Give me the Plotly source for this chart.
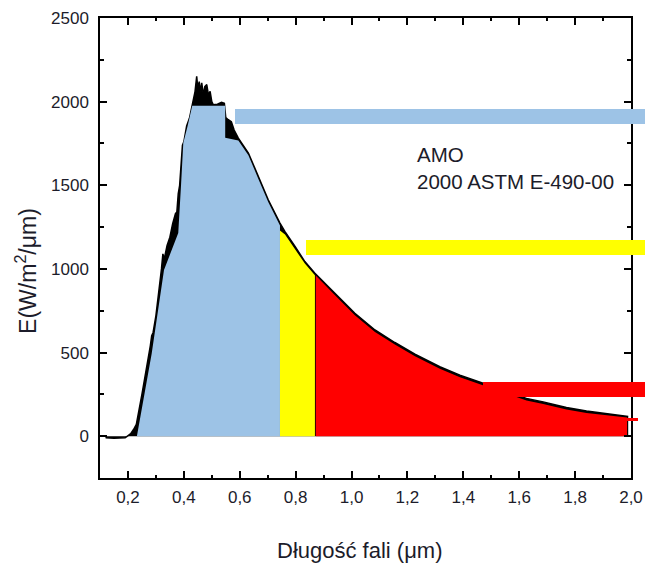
import plotly.graph_objects as go

# --- spectrum (AM0, ASTM E-490-00) ---
wl = [0.12, 0.15, 0.19, 0.20, 0.21, 0.22, 0.225, 0.23, 0.25, 0.27, 0.28, 0.285, 0.29, 0.30,
      0.31, 0.32, 0.325, 0.33, 0.34, 0.35, 0.36, 0.37, 0.375, 0.38, 0.385, 0.39, 0.395,
      0.40, 0.41, 0.42, 0.43, 0.44, 0.446, 0.45, 0.455, 0.46, 0.464, 0.47, 0.475, 0.482,
      0.488, 0.494, 0.50, 0.505, 0.52, 0.535, 0.545, 0.55, 0.559, 0.57, 0.58, 0.595, 0.631,
      0.666, 0.702, 0.744, 0.762, 0.798, 0.833, 0.869, 0.941, 1.012, 1.084, 1.155, 1.227,
      1.316, 1.388, 1.471, 1.55, 1.626, 1.686, 1.769, 1.841, 1.913, 1.984, 1.99]
irr = [-10, -12, -10, 0, 15, 40, 60, 70, 250, 430, 540, 600, 620, 720,
       850, 1000, 1090, 1060, 1140, 1190, 1270, 1330, 1340, 1450, 1500, 1640, 1740,
       1760, 1855, 1900, 1990, 2060, 2152, 2080, 2120, 2060, 2112, 2040, 2090, 2102,
       2040, 2062, 2000, 1982, 1985, 1996, 1990, 1905, 1892, 1880, 1830, 1782, 1693,
       1553, 1413, 1274, 1223, 1134, 1044, 974, 854, 735, 635, 560, 490,
       415, 365, 315, 268, 226, 205, 172, 150, 136, 120, 118]

# --- coloured bands under the spectrum ---
blue_x = [0.232, 0.285, 0.329, 0.380, 0.390, 0.398, 0.413, 0.430, 0.548, 0.548, 0.595,
          0.631, 0.666, 0.702, 0.744, 0.744]
blue_y = [0, 495, 994, 1214, 1503, 1753, 1852, 1976, 1976, 1784, 1768,
          1680, 1540, 1400, 1260, 0]
yellow_x = [0.744, 0.744, 0.762, 0.798, 0.833, 0.869, 0.869]
yellow_y = [0, 1230, 1205, 1120, 1032, 962, 0]
red_x = [0.872, 0.872, 0.941, 1.012, 1.084, 1.155, 1.227, 1.316, 1.388, 1.471, 1.55, 1.626,
         1.686, 1.769, 1.841, 1.913, 1.986, 1.986]
red_y = [0, 960, 842, 723, 623, 548, 478, 403, 353, 303, 256, 214,
         193, 160, 138, 124, 112, 0]

# --- legend-like bars (run past the right axis) ---
bar_start = [0.583, 0.837, 1.471, 1.984]
bar_end = [2.10, 2.10, 2.10, 2.025]
bar_level = [1910, 1129, 280, 100]
bar_thick = [88, 88, 88, 14]
bar_colors = ["#9DC3E6", "#FFFF00", "#FF0000", "#FF0000"]

# --- axes ---
x_range = [0.1, 2.0]
y_range = [-250, 2500]
x_ticks = [0.2, 0.4, 0.6, 0.8, 1.0, 1.2, 1.4, 1.6, 1.8, 2.0]
y_ticks = [0, 500, 1000, 1500, 2000, 2500]

TXT = "#1c1c2a"
FONT = "Liberation Sans, Arial, sans-serif"

W, H = 645, 568
ML, MR, MT, MB = 100, 0, 18, 90
main_frac = 531 / (W - ML - MR)          # share of the width taken by the framed plot
x2_range = [x_range[0], x_range[0] + (x_range[1] - x_range[0]) / main_frac]

fig = go.Figure()
fig.add_trace(go.Scatter(x=wl, y=irr, mode="lines", fill="tozeroy",
                         fillcolor="black", line=dict(color="black", width=1.5),
                         showlegend=False, hoverinfo="skip"))
for xs, ys, col in [(blue_x, blue_y, "#9DC3E6"), (yellow_x, yellow_y, "#FFFF00"),
                    (red_x, red_y, "#FF0000")]:
    fig.add_trace(go.Scatter(x=xs, y=ys, mode="lines", fill="toself", fillcolor=col,
                             line=dict(width=0, color=col), showlegend=False,
                             hoverinfo="skip"))

fig.add_trace(go.Bar(y=bar_level, base=bar_start,
                     x=[e - s for s, e in zip(bar_start, bar_end)],
                     orientation="h", width=bar_thick,
                     marker=dict(color=bar_colors, line=dict(width=0)),
                     showlegend=False, hoverinfo="skip",
                     xaxis="x2", yaxis="y2"))

axis_common = dict(showline=True, linecolor="black", linewidth=1.5, mirror="ticks",
                   ticks="inside", ticklen=7, tickwidth=1.5, tickcolor="black",
                   showgrid=False, zeroline=False, automargin=False,
                   tickfont=dict(family=FONT, size=17, color=TXT))

fig.update_layout(
    width=W, height=H,
    margin=dict(l=ML, r=MR, t=MT, b=MB),
    paper_bgcolor="white", plot_bgcolor="rgba(0,0,0,0)",
    separators=", ",
    bargap=0,
    xaxis=dict(domain=[0, main_frac], range=x_range, tickvals=x_ticks, tickformat=".1f",
               minor=dict(ticks="inside", ticklen=3, dtick=0.1, tick0=0.1,
                          tickcolor="black", tickwidth=1.5),
               ticklabelstandoff=3, **axis_common),
    yaxis=dict(range=y_range, tickvals=y_ticks,
               minor=dict(ticks="inside", ticklen=4, dtick=250, tick0=0,
                          tickcolor="black", tickwidth=1.5),
               ticklabelstandoff=6, **axis_common),
    xaxis2=dict(domain=[0, 1], range=x2_range, anchor="y2", visible=False,
                automargin=False),
    yaxis2=dict(domain=[0, 1], range=y_range, anchor="x2", visible=False,
                automargin=False),
    annotations=[
        dict(text="AMO", x=1.227, y=1683, xref="x", yref="y", xanchor="left",
             yanchor="middle", showarrow=False,
             font=dict(family=FONT, size=20.5, color=TXT)),
        dict(text="2000 ASTM E-490-00", x=1.227, y=1521, xref="x", yref="y",
             xanchor="left", yanchor="middle", showarrow=False,
             font=dict(family=FONT, size=20.5, color=TXT)),
        dict(text="E(W/m<sup>2</sup>/μm)", x=-0.136, y=0.45, xref="paper", yref="paper",
             xanchor="center", yanchor="middle", textangle=-90, showarrow=False,
             font=dict(family=FONT, size=23, color=TXT)),
        dict(text="Długość fali (μm)", x=0.477, y=-0.158, xref="paper", yref="paper",
             xanchor="center", yanchor="middle", showarrow=False,
             font=dict(family=FONT, size=22, color=TXT)),
    ],
)

fig.write_html("out.html")
